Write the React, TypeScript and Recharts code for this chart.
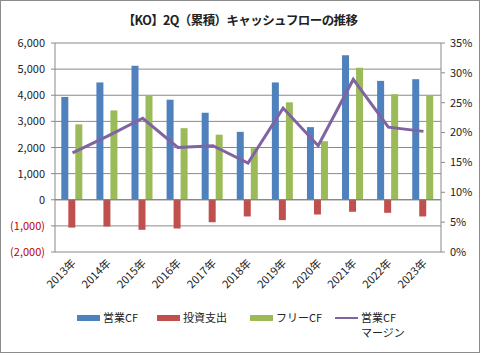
import { Bar, CartesianGrid, ComposedChart, Line, ReferenceLine, XAxis, YAxis } from "recharts";

const years = ["2013年", "2014年", "2015年", "2016年", "2017年", "2018年", "2019年", "2020年", "2021年", "2022年", "2023年"];
const operatingCF = [3935, 4490, 5130, 3830, 3330, 2600, 4490, 2780, 5530, 4550, 4615];
const capex = [-1065, -1025, -1150, -1100, -860, -640, -780, -565, -460, -500, -640];
const freeCF = [2885, 3420, 4000, 2740, 2490, 1975, 3730, 2240, 5050, 4040, 4000];
const cfMargin = [0.166, 0.194, 0.224, 0.175, 0.178, 0.149, 0.241, 0.178, 0.289, 0.209, 0.202];

const leftTicks = [-2000, -1000, 0, 1000, 2000, 3000, 4000, 5000, 6000];
const rightTicks = [0, 0.05, 0.1, 0.15, 0.2, 0.25, 0.3, 0.35];

const data = years.map((year, i) => ({
  year,
  operatingCF: operatingCF[i],
  capex: capex[i],
  freeCF: freeCF[i],
  cfMargin: cfMargin[i],
}));

const FONT = '"Noto Sans CJK JP", "Noto Sans", sans-serif';
const BLUE = "#4F81BD";
const RED = "#C0504D";
const GREEN = "#9BBB59";
const PURPLE = "#8064A2";

function LeftTick({ x, y, payload }: any) {
  const v = payload.value as number;
  const label = v < 0 ? `(${Math.abs(v).toLocaleString("en-US")})` : v.toLocaleString("en-US");
  return (
    <text x={x} y={y} dy={4} textAnchor="end" fontSize={11} fontFamily={FONT} fill={v < 0 ? "#C00000" : "#222"}>
      {label}
    </text>
  );
}

function YearTick({ x, y, payload }: any) {
  return (
    <text
      x={x + 4}
      y={y + 4}
      textAnchor="end"
      fontSize={11}
      fontFamily={FONT}
      fill="#222"
      transform={`rotate(-45, ${x + 4}, ${y + 4})`}
    >
      {payload.value}
    </text>
  );
}

// legend entries, widths follow the spacing in the original
const legendItems = [
  { label: "営業CF", color: BLUE, kind: "bar", width: 80 },
  { label: "投資支出", color: RED, kind: "bar", width: 93 },
  { label: "フリーCF", color: GREEN, kind: "bar", width: 85 },
  { label: "営業CF\nマージン", color: PURPLE, kind: "line", width: 90 },
];

function ChartLegend() {
  return (
    <div
      style={{
        position: "absolute",
        top: 309,
        left: 76,
        display: "flex",
        fontFamily: FONT,
        fontSize: 11,
        color: "#222",
      }}
    >
      {legendItems.map((item) => (
        <div key={item.label} style={{ display: "flex", alignItems: "flex-start", width: item.width }}>
          <span
            style={{
              display: "inline-block",
              width: 23,
              height: item.kind === "line" ? 2 : 6,
              marginTop: item.kind === "line" ? 7 : 5,
              marginRight: 3,
              background: item.color,
            }}
          />
          <span style={{ whiteSpace: "pre", lineHeight: "15px" }}>{item.label}</span>
        </div>
      ))}
    </div>
  );
}

export default function App() {
  return (
    <div
      style={{
        position: "absolute",
        left: 0,
        top: 0,
        width: 478,
        height: 351,
        border: "1px solid #8c8c8c",
        background: "#fff",
        fontFamily: FONT,
      }}
    >
      <div
        style={{
          position: "absolute",
          top: 9,
          left: 0,
          width: 478,
          textAlign: "center",
          fontSize: 12.5,
          fontWeight: 700,
          letterSpacing: -0.6,
          color: "#222",
        }}
      >
        【KO】2Q（累積）キャッシュフローの推移
      </div>
      <ComposedChart
        width={478}
        height={351}
        data={data}
        margin={{ top: 42, right: 0, bottom: 44, left: 0 }}
        barCategoryGap="18%"
        barGap={0}
      >
        <CartesianGrid yAxisId="left" vertical={false} stroke="#8a8a8a" />
        <XAxis
          dataKey="year"
          axisLine={false}
          tickLine={false}
          tick={<YearTick />}
          height={56}
          interval={0}
        />
        <YAxis
          yAxisId="left"
          domain={[-2000, 6000]}
          ticks={leftTicks}
          tick={<LeftTick />}
          width={54}
          tickSize={4}
          tickMargin={6}
          stroke="#8a8a8a"
          interval={0}
        />
        <YAxis
          yAxisId="right"
          orientation="right"
          domain={[0, 0.35]}
          ticks={rightTicks}
          tickFormatter={(v: number) => `${Math.round(v * 100)}%`}
          tick={{ fontSize: 11, fontFamily: FONT, fill: "#222" }}
          width={38}
          tickSize={4}
          tickMargin={5}
          stroke="#8a8a8a"
          interval={0}
        />
        <ReferenceLine yAxisId="left" y={0} stroke="#7f7f7f" />
        <Bar yAxisId="left" dataKey="operatingCF" name="営業CF" fill={BLUE} isAnimationActive={false} />
        <Bar yAxisId="left" dataKey="capex" name="投資支出" fill={RED} isAnimationActive={false} />
        <Bar yAxisId="left" dataKey="freeCF" name="フリーCF" fill={GREEN} isAnimationActive={false} />
        <Line
          yAxisId="right"
          dataKey="cfMargin"
          name="営業CFマージン"
          stroke={PURPLE}
          strokeWidth={3}
          dot={false}
          type="linear"
          isAnimationActive={false}
        />
      </ComposedChart>
      <ChartLegend />
    </div>
  );
}
